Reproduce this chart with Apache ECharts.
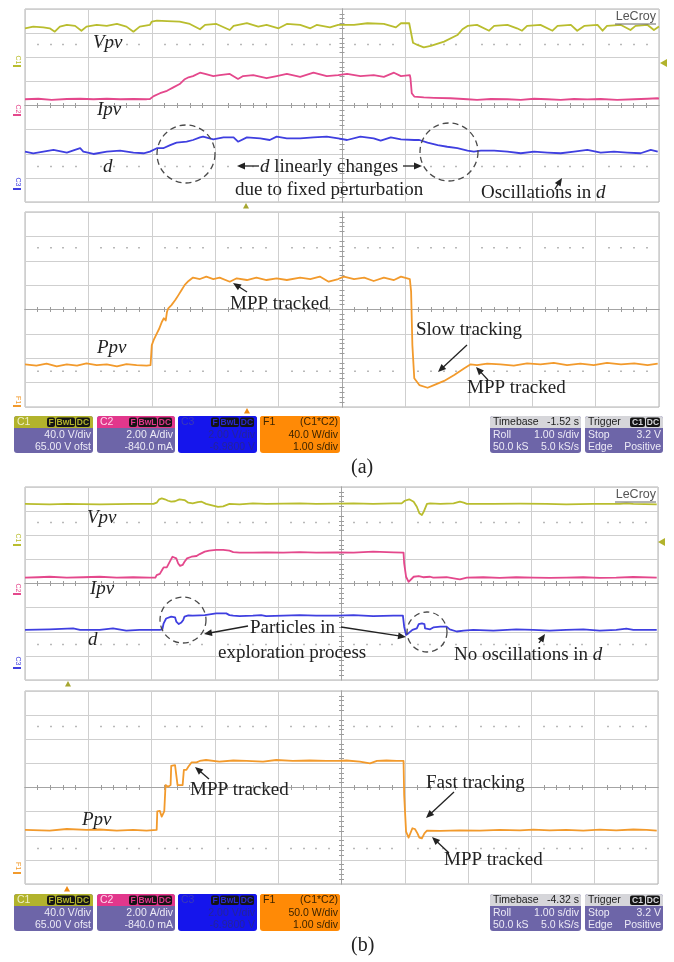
<!DOCTYPE html>
<html>
<head>
<meta charset="utf-8">
<script src="https://cdn.jsdelivr.net/npm/echarts@6/dist/echarts.min.js"></script>
<style>
  html, body { margin: 0; padding: 0; background: #fff; }
  #chart { width: 674px; height: 962px; }
</style>
</head>
<body>
<div id="chart"></div>
<script>
// Oscilloscope captures, values in screen divisions: time -5..5 div, amplitude -4..4 div.
// (a) fixed-step perturbation
const vpvA = [[-5.00,3.20],[-4.87,3.27],[-4.71,3.24],[-4.61,3.20],[-4.53,3.06],[-4.45,3.27],[-4.34,3.34],[-4.21,3.30],[-4.11,3.10],[-4.03,3.27],[-3.87,3.34],[-3.71,3.30],[-3.55,3.38],[-3.40,3.27],[-3.29,3.06],[-3.19,3.27],[-3.03,3.34],[-3.00,3.48],[-2.92,3.52],[-2.76,3.50],[-2.56,3.48],[-2.40,3.38],[-2.24,3.16],[-2.16,3.34],[-1.98,3.38],[-1.77,3.13],[-1.71,3.30],[-1.50,3.41],[-1.32,3.27],[-1.19,3.34],[-1.00,3.20],[-0.87,3.38],[-0.66,3.34],[-0.50,3.20],[-0.40,3.34],[-0.19,3.24],[-0.06,3.34],[0.19,3.34],[0.40,3.41],[0.66,3.38],[0.85,3.24],[0.93,3.41],[1.06,3.41],[1.09,3.34],[1.12,2.60],[1.19,2.51],[1.29,2.41],[1.40,2.47],[1.61,2.65],[1.82,2.92],[1.90,3.16],[1.98,3.30],[2.13,3.34],[2.32,3.10],[2.40,3.30],[2.61,3.34],[2.76,3.20],[2.84,3.10],[2.92,3.30],[3.13,3.34],[3.32,3.10],[3.40,3.30],[3.61,3.34],[3.71,3.10],[3.82,3.30],[4.03,3.34],[4.11,3.10],[4.18,3.30],[4.40,3.34],[4.55,3.13],[4.63,3.30],[4.82,3.34],[4.92,3.13],[5.00,3.27]];
const ipvA = [[-5.00,0.26],[-4.79,0.28],[-4.58,0.23],[-4.34,0.27],[-4.13,0.28],[-3.92,0.26],[-3.71,0.28],[-3.50,0.26],[-3.29,0.27],[-3.08,0.26],[-3.03,0.27],[-2.97,0.39],[-2.87,0.51],[-2.76,0.61],[-2.66,0.75],[-2.56,0.89],[-2.48,1.09],[-2.42,1.17],[-2.35,1.22],[-2.24,1.36],[-2.16,1.31],[-2.03,1.22],[-1.93,1.26],[-1.77,1.31],[-1.64,1.10],[-1.56,1.22],[-1.40,1.26],[-1.19,1.13],[-1.03,1.22],[-0.87,1.31],[-0.66,1.19],[-0.45,1.36],[-0.24,1.22],[-0.06,1.26],[0.08,1.31],[0.29,1.22],[0.50,1.26],[0.66,1.19],[0.82,1.36],[0.93,1.22],[1.07,1.26],[1.08,1.13],[1.10,0.51],[1.14,0.37],[1.29,0.34],[1.45,0.32],[1.71,0.30],[1.98,0.26],[2.13,0.23],[2.35,0.27],[2.61,0.26],[2.82,0.23],[3.03,0.28],[3.24,0.26],[3.45,0.23],[3.66,0.27],[3.87,0.25],[4.08,0.27],[4.34,0.23],[4.61,0.26],[4.82,0.28],[4.98,0.30],[5.00,0.29]];
const dutyA = [[-5.00,-1.91],[-4.87,-1.98],[-4.71,-1.91],[-4.55,-1.84],[-4.34,-1.95],[-4.13,-1.77],[-4.08,-1.91],[-3.92,-2.01],[-3.71,-1.91],[-3.50,-1.87],[-3.29,-1.95],[-3.13,-1.98],[-3.03,-1.91],[-2.92,-1.77],[-2.82,-1.77],[-2.71,-1.64],[-2.61,-1.54],[-2.45,-1.50],[-2.35,-1.43],[-2.24,-1.32],[-2.19,-1.29],[-2.03,-1.40],[-1.87,-1.32],[-1.71,-1.32],[-1.64,-1.50],[-1.50,-1.32],[-1.29,-1.36],[-1.14,-1.43],[-1.03,-1.29],[-0.87,-1.36],[-0.66,-1.36],[-0.45,-1.32],[-0.24,-1.29],[-0.06,-1.36],[0.08,-1.43],[0.29,-1.29],[0.50,-1.36],[0.61,-1.46],[0.77,-1.32],[0.93,-1.40],[1.14,-1.43],[1.22,-1.43],[1.35,-1.54],[1.51,-1.64],[1.66,-1.71],[1.82,-1.77],[1.98,-1.87],[2.08,-1.91],[2.19,-1.87],[2.40,-1.87],[2.61,-1.91],[2.82,-1.98],[3.03,-1.91],[3.24,-1.95],[3.45,-1.98],[3.66,-1.91],[3.87,-1.84],[4.08,-1.95],[4.29,-1.91],[4.50,-1.95],[4.71,-1.98],[4.87,-1.84],[4.98,-1.91]];
const ppvA = [[-5.00,-2.25],[-4.82,-2.30],[-4.66,-2.22],[-4.50,-2.33],[-4.34,-2.25],[-4.18,-2.30],[-4.03,-2.21],[-3.87,-2.28],[-3.71,-2.25],[-3.55,-2.33],[-3.40,-2.24],[-3.24,-2.28],[-3.08,-2.30],[-3.02,-2.28],[-3.00,-1.46],[-2.97,-1.25],[-2.92,-0.98],[-2.88,-0.77],[-2.86,-0.84],[-2.84,-0.50],[-2.81,-0.36],[-2.78,-0.45],[-2.76,-0.09],[-2.74,0.05],[-2.69,0.18],[-2.63,0.39],[-2.58,0.59],[-2.53,0.80],[-2.48,1.01],[-2.42,1.17],[-2.35,1.31],[-2.24,1.25],[-2.14,1.35],[-2.03,1.25],[-1.93,1.31],[-1.77,1.14],[-1.66,1.28],[-1.50,1.21],[-1.35,1.31],[-1.19,1.21],[-1.03,1.28],[-0.87,1.21],[-0.66,1.31],[-0.50,1.25],[-0.35,1.35],[-0.21,1.14],[-0.06,1.25],[0.03,1.35],[0.19,1.25],[0.35,1.31],[0.50,1.17],[0.66,1.31],[0.82,1.21],[0.93,1.35],[1.07,1.25],[1.09,0.73],[1.11,-1.46],[1.14,-2.82],[1.22,-3.10],[1.35,-3.21],[1.45,-3.10],[1.61,-2.93],[1.77,-2.69],[1.93,-2.41],[2.03,-2.25],[2.13,-2.28],[2.29,-2.22],[2.50,-2.25],[2.71,-2.30],[2.92,-2.21],[3.13,-2.25],[3.34,-2.19],[3.55,-2.28],[3.76,-2.22],[3.97,-2.28],[4.18,-2.19],[4.40,-2.25],[4.61,-2.21],[4.82,-2.28],[4.98,-2.22]];

// (b) particle-swarm tracking
const vpvB = [[-5.00,3.30],[-4.61,3.28],[-4.34,3.30],[-3.82,3.28],[-3.29,3.30],[-2.97,3.30],[-2.92,3.35],[-2.88,3.49],[-2.84,3.53],[-2.79,3.49],[-2.74,3.43],[-2.69,3.39],[-2.63,3.41],[-2.56,3.49],[-2.48,3.46],[-2.42,3.35],[-2.35,3.32],[-2.27,3.37],[-2.21,3.39],[-2.14,3.30],[-2.03,3.23],[-1.95,3.18],[-1.87,3.20],[-1.77,3.30],[-1.61,3.28],[-1.40,3.32],[-1.19,3.30],[-0.92,3.31],[-0.66,3.32],[-0.40,3.30],[-0.06,3.31],[0.19,3.32],[0.50,3.30],[0.82,3.32],[0.95,3.32],[1.00,3.43],[1.07,3.49],[1.14,3.39],[1.19,3.18],[1.23,2.91],[1.27,2.84],[1.30,2.98],[1.35,3.30],[1.40,3.32],[1.56,3.30],[1.77,3.32],[1.87,3.39],[1.93,3.35],[1.98,3.30],[2.40,3.30],[2.82,3.31],[3.24,3.30],[3.55,3.28],[3.97,3.30],[4.40,3.30],[4.50,3.32],[4.61,3.30],[4.98,3.28]];
const ipvB = [[-5.00,0.24],[-4.79,0.26],[-4.61,0.28],[-4.34,0.24],[-4.08,0.26],[-3.82,0.28],[-3.55,0.24],[-3.29,0.26],[-3.03,0.24],[-2.94,0.24],[-2.92,0.35],[-2.87,0.40],[-2.83,0.58],[-2.81,0.67],[-2.76,0.67],[-2.74,0.73],[-2.70,0.97],[-2.67,1.11],[-2.64,1.14],[-2.61,1.04],[-2.58,0.83],[-2.55,0.73],[-2.51,0.77],[-2.48,0.90],[-2.44,1.04],[-2.37,1.11],[-2.29,1.14],[-2.24,1.22],[-2.16,1.32],[-2.09,1.36],[-1.98,1.39],[-1.87,1.39],[-1.77,1.36],[-1.71,1.30],[-1.61,1.28],[-1.40,1.28],[-1.19,1.29],[-0.92,1.28],[-0.66,1.30],[-0.40,1.28],[-0.06,1.29],[0.19,1.28],[0.50,1.32],[0.82,1.29],[0.98,1.28],[0.99,0.83],[1.02,0.28],[1.06,0.07],[1.09,0.14],[1.14,0.28],[1.22,0.31],[1.29,0.26],[1.40,0.28],[1.45,0.24],[1.66,0.26],[1.82,0.19],[1.87,0.17],[1.98,0.24],[2.24,0.26],[2.50,0.23],[2.76,0.26],[3.03,0.24],[3.29,0.23],[3.55,0.24],[3.82,0.26],[4.08,0.23],[4.34,0.24],[4.61,0.27],[4.98,0.24]];
const dutyB = [[-5.00,-1.92],[-4.61,-1.90],[-4.24,-1.86],[-4.13,-1.92],[-3.82,-1.92],[-3.61,-1.86],[-3.40,-1.95],[-3.19,-1.92],[-2.87,-1.92],[-2.83,-1.90],[-2.81,-1.65],[-2.77,-1.45],[-2.74,-1.37],[-2.69,-1.37],[-2.63,-1.40],[-2.61,-1.58],[-2.57,-1.68],[-2.53,-1.62],[-2.50,-1.51],[-2.48,-1.37],[-2.42,-1.32],[-2.35,-1.33],[-2.24,-1.32],[-2.16,-1.31],[-2.13,-1.24],[-1.98,-1.24],[-1.82,-1.24],[-1.77,-1.31],[-1.71,-1.33],[-1.61,-1.35],[-1.40,-1.33],[-1.27,-1.31],[-1.19,-1.35],[-0.92,-1.33],[-0.66,-1.31],[-0.40,-1.33],[-0.06,-1.33],[0.19,-1.31],[0.50,-1.35],[0.82,-1.33],[0.97,-1.33],[0.99,-1.79],[1.02,-2.13],[1.06,-2.06],[1.12,-1.92],[1.19,-1.86],[1.22,-1.68],[1.27,-1.65],[1.31,-1.68],[1.32,-1.86],[1.40,-1.90],[1.45,-1.82],[1.56,-1.79],[1.66,-1.79],[1.71,-1.90],[1.82,-1.99],[1.93,-1.95],[2.08,-1.92],[2.40,-1.95],[2.76,-1.90],[3.03,-1.92],[3.29,-1.95],[3.55,-1.92],[3.82,-1.90],[4.08,-1.95],[4.34,-1.92],[4.50,-1.87],[4.61,-1.92],[4.98,-1.92]];
const ppvB = [[-5.00,-1.76],[-4.61,-1.79],[-4.34,-1.72],[-4.03,-1.76],[-3.82,-1.74],[-3.55,-1.79],[-3.29,-1.76],[-3.08,-1.79],[-2.92,-1.76],[-2.91,-0.99],[-2.87,-0.97],[-2.84,-1.21],[-2.82,-1.14],[-2.80,-0.99],[-2.78,0.10],[-2.74,0.03],[-2.70,0.10],[-2.69,0.90],[-2.63,0.93],[-2.61,0.86],[-2.59,0.10],[-2.51,0.10],[-2.49,0.73],[-2.45,0.73],[-2.42,0.86],[-2.37,1.04],[-2.29,1.04],[-2.24,1.10],[-2.14,1.14],[-1.93,1.07],[-1.71,1.12],[-1.50,1.10],[-1.24,1.07],[-1.03,1.14],[-0.77,1.10],[-0.50,1.12],[-0.24,1.10],[-0.06,1.10],[0.08,1.12],[0.29,1.07],[0.45,1.00],[0.56,1.10],[0.71,1.12],[0.87,1.10],[0.98,1.10],[0.99,-0.31],[1.02,-1.83],[1.06,-2.08],[1.09,-2.04],[1.12,-1.69],[1.16,-1.72],[1.20,-1.90],[1.23,-2.08],[1.27,-2.11],[1.31,-1.90],[1.35,-1.79],[1.56,-1.80],[1.87,-1.78],[2.19,-1.79],[2.50,-1.76],[2.82,-1.78],[3.03,-1.75],[3.29,-1.78],[3.55,-1.76],[3.82,-1.79],[4.08,-1.75],[4.34,-1.78],[4.61,-1.74],[4.82,-1.76],[4.98,-1.79]];

// Readout boxes
const channelBoxesA = [
  { head: 'C1', lines: ['40.0 V/div', '65.00 V ofst'] },
  { head: 'C2', lines: ['2.00 A/div', '-840.0 mA'] },
  { head: 'C3', lines: ['2.00 V/div', '-6.9800 V'] },
  { head: 'F1', tag: '(C1*C2)', lines: ['40.0 W/div', '1.00 s/div'] }
];
const channelBoxesB = [
  { head: 'C1', lines: ['40.0 V/div', '65.00 V ofst'] },
  { head: 'C2', lines: ['2.00 A/div', '-840.0 mA'] },
  { head: 'C3', lines: ['2.00 V/div', '-6.9800 V'] },
  { head: 'F1', tag: '(C1*C2)', lines: ['50.0 W/div', '1.00 s/div'] }
];
const timebaseA = { head: ['Timebase', '-1.52 s'], lines: [['Roll', '1.00 s/div'], ['50.0 kS', '5.0 kS/s']] };
const timebaseB = { head: ['Timebase', '-4.32 s'], lines: [['Roll', '1.00 s/div'], ['50.0 kS', '5.0 kS/s']] };
const trigger = { head: 'Trigger', lines: [['Stop', '3.2 V'], ['Edge', 'Positive']] };

const COL = { v: '#b9bd2e', i: '#e4488c', d: '#3f3fe0', p: '#f29a2c' };
const SERIF = 'Liberation Serif';
const SANS = 'Liberation Sans';

const screens = [
  { left: 25, top: 9, width: 634, height: 193 },
  { left: 25, top: 212, width: 634, height: 195 },
  { left: 25, top: 487, width: 633, height: 193 },
  { left: 25, top: 691, width: 633, height: 193 }
];

const grid = [], xAxis = [], yAxis = [], mainX = [], mainY = [];
const tickStyle = { color: '#9c9c9c', width: 1 };
screens.forEach((s, gi) => {
  grid.push({ left: s.left, top: s.top, width: s.width, height: s.height, show: true,
    borderColor: '#b2b2b2', borderWidth: 1, backgroundColor: '#ffffff' });
  const xi = xAxis.length, yi = yAxis.length;
  mainX.push(xi); mainY.push(yi);
  const dotOffset = -s.height / 8 * 1.5;
  const xb = { gridIndex: gi, type: 'value', min: -5, max: 5, interval: 1, silent: true,
    axisLabel: { show: false }, axisTick: { show: false }, splitLine: { show: false } };
  const yb = { gridIndex: gi, type: 'value', min: -4, max: 4, interval: 1, silent: true,
    axisLabel: { show: false }, axisTick: { show: false }, splitLine: { show: false } };
  // centre graticule line with small cross ticks, plus the regular grid
  xAxis.push(Object.assign({}, xb, { position: 'bottom',
    axisLine: { show: true, onZero: true, onZeroAxisIndex: yi, lineStyle: { color: '#a4a4a4' } },
    splitLine: { show: true, lineStyle: { color: '#cfcfcf' } },
    minorTick: { show: true, splitNumber: 5, length: 2.5, lineStyle: tickStyle } }));
  xAxis.push(Object.assign({}, xb, { position: 'top',
    axisLine: { show: true, onZero: true, onZeroAxisIndex: yi, lineStyle: { color: '#a4a4a4' } },
    minorTick: { show: true, splitNumber: 5, length: 2.5, lineStyle: tickStyle } }));
  // dotted rows
  xAxis.push(Object.assign({}, xb, { position: 'top', offset: dotOffset,
    axisLine: { show: false, onZero: false },
    minorTick: { show: true, splitNumber: 5, length: 1.5, lineStyle: { color: '#a8a8a8', width: 1.6 } } }));
  xAxis.push(Object.assign({}, xb, { position: 'bottom', offset: dotOffset,
    axisLine: { show: false, onZero: false },
    minorTick: { show: true, splitNumber: 5, length: 1.5, lineStyle: { color: '#a8a8a8', width: 1.6 } } }));
  yAxis.push(Object.assign({}, yb, { position: 'left',
    axisLine: { show: true, onZero: true, onZeroAxisIndex: xi, lineStyle: { color: '#a4a4a4' } },
    splitLine: { show: true, lineStyle: { color: '#cfcfcf' } },
    minorTick: { show: true, splitNumber: 5, length: 2.5, lineStyle: tickStyle } }));
  yAxis.push(Object.assign({}, yb, { position: 'right',
    axisLine: { show: true, onZero: true, onZeroAxisIndex: xi, lineStyle: { color: '#a4a4a4' } },
    minorTick: { show: true, splitNumber: 5, length: 2.5, lineStyle: tickStyle } }));
});

function trace(name, data, gi, color) {
  return { name, type: 'line', data, xAxisIndex: mainX[gi], yAxisIndex: mainY[gi],
    showSymbol: false, symbol: 'none', animation: false, z: 5, silent: true,
    lineStyle: { color, width: 1.8, join: 'round' } };
}
const series = [
  trace('Vpv (a)', vpvA, 0, COL.v), trace('Ipv (a)', ipvA, 0, COL.i), trace('d (a)', dutyA, 0, COL.d),
  trace('Ppv (a)', ppvA, 1, COL.p),
  trace('Vpv (b)', vpvB, 2, COL.v), trace('Ipv (b)', ipvB, 2, COL.i), trace('d (b)', dutyB, 2, COL.d),
  trace('Ppv (b)', ppvB, 3, COL.p)
];

// ---------- annotations and instrument decorations ----------
const g = [];
const INK = '#222222';
function text(x, y, str, opt) {
  opt = opt || {};
  const st = { text: str, x, y, fill: opt.fill || INK, fontSize: opt.size || 19,
    fontFamily: opt.family || SERIF, fontStyle: opt.italic ? 'italic' : 'normal',
    fontWeight: opt.weight || 'normal',
    align: opt.align || 'left', verticalAlign: 'middle' };
  if (opt.rich) st.rich = opt.rich;
  const el = { type: 'text', z: 50, style: st, silent: true };
  if (opt.rotation) { el.rotation = opt.rotation; el.x = x; el.y = y; st.x = 0; st.y = 0; }
  g.push(el);
}
const richItalic = { i: { fontStyle: 'italic', fontSize: 19, fontFamily: SERIF, fill: INK } };
function arrow(x1, y1, x2, y2) {
  const dx = x2 - x1, dy = y2 - y1, L = Math.hypot(dx, dy), ux = dx / L, uy = dy / L;
  const hl = 8, hw = 3.4, bx = x2 - ux * hl, by = y2 - uy * hl;
  g.push({ type: 'line', z: 50, silent: true, shape: { x1, y1, x2: bx + ux, y2: by + uy },
    style: { stroke: INK, lineWidth: 1.3 } });
  g.push({ type: 'polygon', z: 50, silent: true,
    shape: { points: [[x2, y2], [bx - uy * hw, by + ux * hw], [bx + uy * hw, by - ux * hw]] },
    style: { fill: INK } });
}
function dashedCircle(cx, cy, r) {
  g.push({ type: 'circle', z: 40, silent: true, shape: { cx, cy, r },
    style: { fill: 'none', stroke: '#4a4a4a', lineWidth: 1.3, lineDash: [6, 4] } });
}
function tri(points, fill) {
  g.push({ type: 'polygon', z: 30, silent: true, shape: { points }, style: { fill } });
}
function rect(x, y, w, h, fill, r, z) {
  g.push({ type: 'rect', z: z || 20, silent: true, shape: { x, y, width: w, height: h, r: r || 0 }, style: { fill } });
}
function chanMark(x, y, label, color, barY) {
  text(x, y, label, { size: 7, family: SANS, fill: color, rotation: -Math.PI / 2, align: 'center' });
  rect(13, barY - 1, 8, 2, color, 0, 30);
}
function logo(x, y) {
  text(x, y, 'LeCroy', { size: 12.5, family: SANS, fill: '#555', align: 'right' });
  g.push({ type: 'line', z: 50, silent: true, shape: { x1: x - 41, y1: y + 7, x2: x, y2: y + 7 },
    style: { stroke: '#666', lineWidth: 1 } });
}

function badges(right, y, labels, widths, textColor) {
  let x = right;
  for (let k = labels.length - 1; k >= 0; k--) {
    x -= widths[k];
    rect(x, y + 1.5, widths[k] - 1, 9.5, '#151515', 2, 22);
    text(x + (widths[k] - 1) / 2, y + 6.3, labels[k], { size: 8.5, family: SANS, fill: textColor, align: 'center', weight: 'bold' });
  }
}

const BOX_X = [[14, 93], [97, 175], [178, 257], [260, 340]];
const PURPLE = '#6d65a8', BODY_TXT = '#eceaf6', BT = 10.5;
function readouts(y0, boxes, tb) {
  const H = 37, HH = 12;
  const heads = [
    { head: '#b2b32c', body: PURPLE, ht: '#eef0c8', bt: BODY_TXT, bad: '#b2b32c' },
    { head: '#e2378c', body: PURPLE, ht: '#ffd6ea', bt: BODY_TXT, bad: '#e2378c' },
    { head: '#1515ec', body: '#1515ec', ht: '#3a3ab8', bt: '#25259a', bad: '#2a2ad0' },
    { head: '#ff8a06', body: '#ff8a06', ht: '#3c2400', bt: '#3c2400', bad: null }
  ];
  boxes.forEach((b, k) => {
    const [x0, x1] = BOX_X[k], c = heads[k], w = x1 - x0;
    rect(x0, y0, w, H, c.body, 3);
    rect(x0, y0, w, HH, c.head, [3, 3, 0, 0], 21);
    text(x0 + 3, y0 + 6.5, b.head, { size: BT, family: SANS, fill: c.ht });
    if (c.bad) badges(x1 - 2, y0, ['F', 'BwL', 'DC'], [9, 20, 15], c.bad);
    if (b.tag) text(x1 - 2, y0 + 6.5, b.tag, { size: BT, family: SANS, fill: c.ht, align: 'right' });
    text(x1 - 2, y0 + 19, b.lines[0], { size: BT, family: SANS, fill: c.bt, align: 'right' });
    text(x1 - 2, y0 + 31, b.lines[1], { size: BT, family: SANS, fill: c.bt, align: 'right' });
  });
  // timebase
  rect(490, y0, 91, H, PURPLE, 3);
  rect(490, y0, 91, HH, '#d6d6da', [3, 3, 0, 0], 21);
  text(493, y0 + 6.5, tb.head[0], { size: BT, family: SANS, fill: '#222' });
  text(579, y0 + 6.5, tb.head[1], { size: BT, family: SANS, fill: '#222', align: 'right' });
  tb.lines.forEach((ln, k) => {
    text(493, y0 + 19 + 12 * k, ln[0], { size: BT, family: SANS, fill: BODY_TXT });
    text(579, y0 + 19 + 12 * k, ln[1], { size: BT, family: SANS, fill: BODY_TXT, align: 'right' });
  });
  // trigger
  rect(585, y0, 78, H, PURPLE, 3);
  rect(585, y0, 78, HH, '#d6d6da', [3, 3, 0, 0], 21);
  text(588, y0 + 6.5, trigger.head, { size: BT, family: SANS, fill: '#222' });
  badges(661, y0, ['C1', 'DC'], [16, 15], '#d6d6da');
  trigger.lines.forEach((ln, k) => {
    text(588, y0 + 19 + 12 * k, ln[0], { size: BT, family: SANS, fill: BODY_TXT });
    text(661, y0 + 19 + 12 * k, ln[1], { size: BT, family: SANS, fill: BODY_TXT, align: 'right' });
  });
}

// ----- panel (a) -----
logo(656, 17);
chanMark(18, 60, 'C1', COL.v, 66);
chanMark(18, 109, 'C2', COL.i, 115);
chanMark(18, 182, 'C3', COL.d, 189);
chanMark(18, 400, 'F1', COL.p, 406);
tri([[660, 63], [667, 59], [667, 67]], '#b2b32c');
tri([[246, 203], [243, 208.5], [249, 208.5]], '#a6a630');
tri([[247, 408], [244, 413.5], [250, 413.5]], '#f08a10');

text(93, 43, 'Vpv', { italic: true });
text(97, 110, 'Ipv', { italic: true });
text(103, 167, 'd', { italic: true });
dashedCircle(186, 154, 29);
dashedCircle(449, 152, 29);
arrow(259, 166, 237, 166);
text(260, 167, '{i|d} linearly changes', { rich: richItalic });
arrow(403, 166, 422, 166);
text(235, 190, 'due to fixed perturbation');
text(481, 193, 'Oscillations in {i|d}', { rich: richItalic });
arrow(555, 189, 562, 178);

text(97, 348, 'Ppv', { italic: true });
text(230, 304, 'MPP tracked');
arrow(247, 292, 233, 283);
text(416, 330, 'Slow tracking');
arrow(467, 345, 438, 372);
text(467, 388, 'MPP tracked');
arrow(488, 380, 476, 367);

readouts(416, channelBoxesA, timebaseA);
text(351, 468, '(a)', { size: 20 });

// ----- panel (b) -----
logo(656, 495);
chanMark(18, 538, 'C1', COL.v, 545);
chanMark(18, 588, 'C2', COL.i, 594);
chanMark(18, 661, 'C3', COL.d, 668);
chanMark(18, 866, 'F1', COL.p, 873);
tri([[658, 542], [665, 538], [665, 546]], '#b2b32c');
tri([[68, 681], [65, 686.5], [71, 686.5]], '#a6a630');
tri([[67, 886], [64, 891.5], [70, 891.5]], '#f08a10');

text(87, 518, 'Vpv', { italic: true });
text(90, 589, 'Ipv', { italic: true });
text(88, 640, 'd', { italic: true });
dashedCircle(183, 620, 23);
dashedCircle(427, 632, 20);
text(250, 628, 'Particles in');
text(218, 653, 'exploration process');
arrow(248, 626, 204, 634);
arrow(341, 627, 406, 637);
text(454, 655, 'No oscillations in {i|d}', { rich: richItalic });
arrow(539, 643, 545, 634);

text(82, 820, 'Ppv', { italic: true });
text(190, 790, 'MPP tracked');
arrow(209, 779, 195, 767);
text(426, 783, 'Fast tracking');
arrow(454, 792, 426, 818);
text(444, 860, 'MPP tracked');
arrow(449, 853, 432, 837);

readouts(894, channelBoxesB, timebaseB);
text(351, 946, '(b)', { size: 20 });

const chart = echarts.init(document.getElementById('chart'), null, { renderer: 'canvas' });
chart.setOption({
  backgroundColor: '#ffffff',
  animation: false,
  grid, xAxis, yAxis, series,
  graphic: { elements: g }
});
</script>
</body>
</html>
